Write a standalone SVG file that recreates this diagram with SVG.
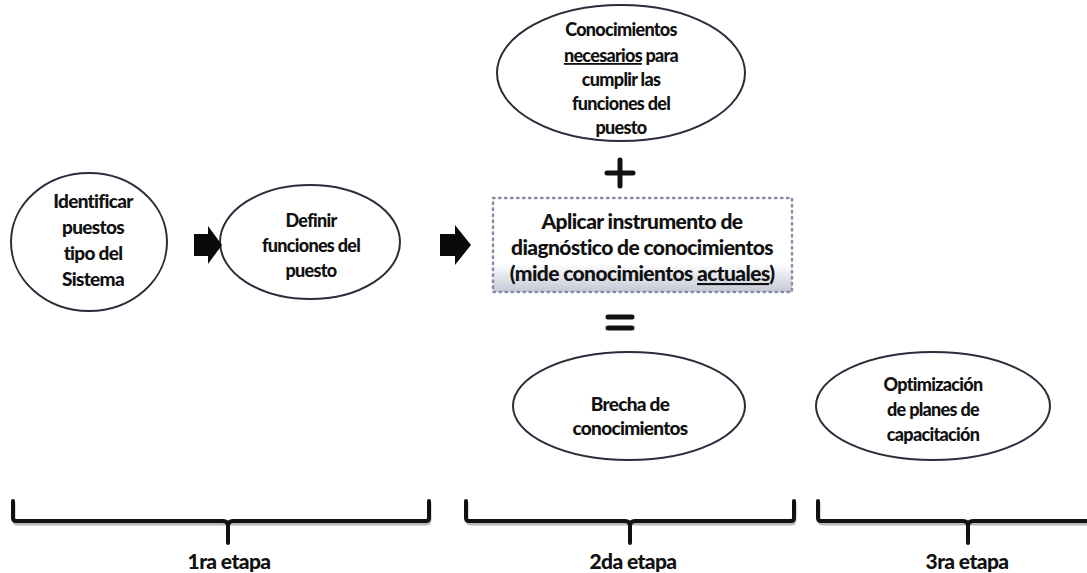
<svg xmlns="http://www.w3.org/2000/svg" width="1087" height="573" viewBox="0 0 1087 573">
  <style>
    .node ellipse { fill: #ffffff; stroke: #2e2c3c; stroke-width: 2; }
    .t { font-family: "Lato", "Liberation Sans", sans-serif; font-weight: 900; font-size: 18px; fill: #111111; text-anchor: middle; letter-spacing: -0.7px; }
    .tl { font-size: 19px; }
    .tb { font-size: 21px; letter-spacing: -0.6px; }
    .lbl { font-family: "Lato", "Liberation Sans", sans-serif; font-weight: 900; font-size: 21px; fill: #111111; text-anchor: middle; letter-spacing: -0.6px; }
    .u { text-decoration: underline; }
    .arrow { fill: #0a0a0a; }
    .brace { fill: none; stroke: #111111; stroke-width: 4; stroke-linecap: round; stroke-linejoin: round; }
    .brace-sh { fill: none; stroke: #9a9a9a; stroke-width: 3; stroke-linecap: round; stroke-linejoin: round; opacity: 0.7; }
    .sym { stroke: #111111; stroke-width: 5; stroke-linecap: round; fill: none; }
  </style>
  <defs>
    <linearGradient id="boxfill" x1="0" y1="0" x2="0" y2="1">
      <stop offset="0" stop-color="#ffffff"/>
      <stop offset="0.7" stop-color="#ffffff"/>
      <stop offset="1" stop-color="#c4c7d6"/>
    </linearGradient>
  </defs>
  <rect width="1087" height="573" fill="#ffffff"/>

  <g id="n-identificar" class="node">
    <ellipse cx="89" cy="242" rx="78" ry="69"/>
    <text class="t tl" x="93" y="208">Identificar</text>
    <text class="t tl" x="93" y="234">puestos</text>
    <text class="t tl" x="93" y="260">tipo del</text>
    <text class="t tl" x="93" y="286">Sistema</text>
  </g>

  <g id="n-definir" class="node">
    <ellipse cx="310" cy="242" rx="90" ry="57"/>
    <text class="t" x="311" y="227">Definir</text>
    <text class="t" x="311" y="252">funciones del</text>
    <text class="t" x="311" y="277">puesto</text>
  </g>

  <g id="n-necesarios" class="node">
    <ellipse cx="621" cy="73" rx="124" ry="68"/>
    <text class="t" x="621" y="36">Conocimientos</text>
    <text class="t" x="621" y="62"><tspan class="u">necesarios</tspan> para</text>
    <text class="t" x="621" y="86">cumplir las</text>
    <text class="t" x="621" y="110">funciones del</text>
    <text class="t" x="621" y="134">puesto</text>
  </g>

  <g id="n-aplicar">
    <rect x="493" y="198" width="299" height="94" fill="url(#boxfill)" stroke="#8d8ca6" stroke-width="2.5" stroke-dasharray="1.5 4.5" stroke-linecap="round"/>
    <text class="t tb" x="642" y="229">Aplicar instrumento de</text>
    <text class="t tb" x="642" y="255">diagnóstico de conocimientos</text>
    <text class="t tb" x="642" y="281">(mide conocimientos <tspan class="u">actuales</tspan>)</text>
  </g>

  <g id="n-brecha" class="node">
    <ellipse cx="629" cy="406" rx="116" ry="54"/>
    <text class="t tl" x="630" y="411">Brecha de</text>
    <text class="t tl" x="630" y="435">conocimientos</text>
  </g>

  <g id="n-optimizacion" class="node">
    <ellipse cx="933" cy="406" rx="117" ry="54"/>
    <text class="t" x="933" y="391">Optimización</text>
    <text class="t" x="933" y="416">de planes de</text>
    <text class="t" x="933" y="441">capacitación</text>
  </g>

  <g id="connectors">
    <path class="arrow" d="M194,234 L208,234 L208,226 L222,245 L208,264 L208,256 L194,256 Z"/>
    <path class="arrow" d="M440,234 L455,234 L455,225 L471,245 L455,265 L455,256 L440,256 Z"/>
    <path class="sym" d="M620,160 L620,186 M607,173 L633,173"/>
    <path class="sym" d="M608,317 L632,317 M608,328 L632,328"/>
  </g>

  <g id="braces">
    <path class="brace-sh" d="M14,503 L14,520 Q14,524 18,524 L426,524 Q430,524 430,520 L430,503"/>
    <path class="brace" d="M13,501 L13,518 Q13,521 16,521 L223,521 Q228,521 228,526 L228,543 M228,526 Q228,521 233,521 L426,521 Q429,521 429,518 L429,501"/>
    <path class="brace-sh" d="M467,503 L467,520 Q467,524 471,524 L791,524 Q795,524 795,520 L795,503"/>
    <path class="brace" d="M466,501 L466,518 Q466,521 469,521 L625,521 Q630,521 630,526 L630,543 M630,526 Q630,521 635,521 L791,521 Q794,521 794,518 L794,501"/>
    <path class="brace-sh" d="M819,503 L819,520 Q819,524 823,524 L1090,524"/>
    <path class="brace" d="M818,501 L818,518 Q818,521 821,521 L963,521 Q968,521 968,526 L968,543 M968,526 Q968,521 973,521 L1090,521"/>
    <text class="lbl" x="229" y="569">1ra etapa</text>
    <text class="lbl" x="633" y="569">2da etapa</text>
    <text class="lbl" x="967" y="569">3ra etapa</text>
  </g>
</svg>
